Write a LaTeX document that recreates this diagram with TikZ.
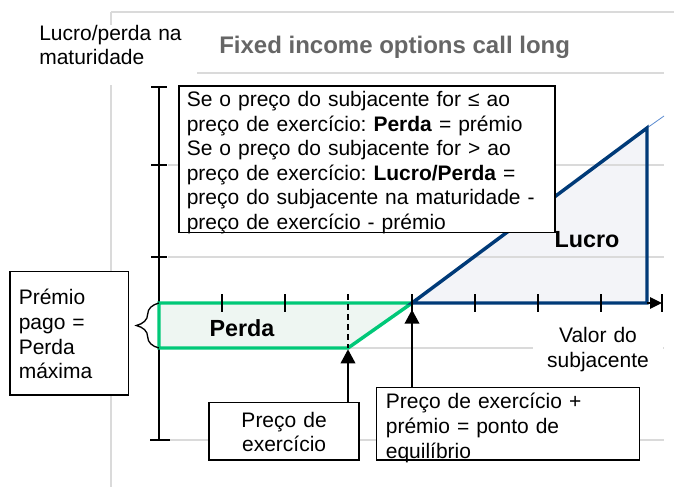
\documentclass[tikz,border=0pt]{standalone}
\usepackage{fontspec}
\setmainfont{Liberation Sans}
\usepackage{tikz}
\usetikzlibrary{positioning}
\usetikzlibrary{arrows.meta}
\usetikzlibrary{decorations.pathreplacing}
\usepackage{xcolor}
\frenchspacing

\definecolor{gridgray}{HTML}{DADADA}
\definecolor{titlegray}{HTML}{666666}
\definecolor{lossgreen}{HTML}{00C878}
\definecolor{lossfill}{HTML}{EEF6F2}
\definecolor{gainblue}{HTML}{003A78}
\definecolor{gainfill}{HTML}{F3F4F8}
\definecolor{lightblue}{HTML}{5B8BD0}

\newcommand{\chartfont}{\fontsize{15.75pt}{18.4pt}\selectfont}
\newcommand{\chartbold}{\fontsize{17.5pt}{20pt}\selectfont\bfseries}
\newcommand{\charttitle}{\fontsize{18pt}{21pt}\selectfont\bfseries}

\begin{document}
\begin{tikzpicture}[x=0.75pt, y=-0.75pt,
    box/.style={draw, fill=white, line width=1.2pt, anchor=north west, inner ysep=0pt, align=left, font=\chartfont},
    axisline/.style={line width=1.2pt},
    gridline/.style={gridgray, line width=1.4pt},
    uparrow/.style={-{Triangle[length=10.5pt,width=11pt]}, line width=1.2pt}]
    \useasboundingbox (0,0) rectangle (674,487);

    % Key points of the payoff
    \coordinate (O) at (159,303);
    \coordinate (ytop) at (159,87);
    \coordinate (ybot) at (159,440);
    \coordinate (xend) at (662,303);
    \coordinate (K) at (348,348);
    \coordinate (Kbase) at (159,348);
    \coordinate (BE) at (412,303);
    \coordinate (P) at (647,128);
    \coordinate (Pbase) at (647,303);
    \coordinate (Pext) at (664,116);

    % Shaded areas
    \fill[lossfill] (O) -- (BE) -- (K) -- (Kbase) -- cycle;
    \fill[gainfill] (BE) -- (P) -- (Pbase) -- cycle;

    % Background grid
    \draw[gridline] (111,12) -- (674,12);
    \draw[gridline] (111,12) -- (111,25);
    \draw[gridline] (111,85) -- (111,487);
    \draw[gridline] (197,73) -- (664,73);
    \foreach \y in {165,257,348,440}
        \draw[gridline] (168,\y) -- (664,\y);

    % Axes
    \draw[axisline] (ytop) -- (ybot);
    \draw[axisline] (O) -- (Pbase);

    % Payoff lines
    \draw[lossgreen, line width=2.6pt] (O) -- (BE) -- (K) -- (Kbase) -- cycle;
    \draw[lightblue, line width=0.6pt] (P) -- (Pext);
    \draw[gainblue, line width=2.6pt] (BE) -- (P) -- (Pbase) -- cycle;
    \draw[axisline, -{Triangle[length=9pt,width=8.5pt]}] (Pbase) -- (xend);

    % Ticks
    \foreach \y in {87,165,257}
        \draw[axisline] (151,\y) -- (167,\y);
    \draw[axisline] (150,440) -- (170,440);
    \foreach \x in {222,285,412,475,538,601,662}
        \draw[axisline] (\x,294) -- (\x,312);
    \draw[axisline, dash pattern=on 4.5pt off 3pt] (348,294) -- (K);

    % Premium brace
    \draw[line width=1pt, decorate, decoration={brace, amplitude=17pt}] (Kbase) -- (O);

    % Labels in the chart
    \node (perdalbl) [font=\chartbold] at (242,328) {Perda};
    \node (lucrolbl) [font=\chartbold] at (587,240) {Lucro};

    % Text boxes
    \node (rulebox) [box, text width=270pt, inner xsep=6pt, text height=15.6pt, text depth=94.4pt] at (178,85)
        {Se o preço do subjacente for ≤ ao\\ preço de exercício: \textbf{Perda} = prémio\\ Se o preço do subjacente for > ao\\ preço de exercício: \textbf{Lucro/Perda} =\\ preço do subjacente na maturidade -\\ preço de exercício - prémio};
    \node (premiobox) [box, text width=75.8pt, inner xsep=6.5pt, text height=25.1pt, text depth=67.4pt] at (9.3,270.7)
        {Prémio\\ pago =\\ Perda\\ máxima};
    \node (strikebox) [box, align=center, text width=112.5pt, inner xsep=0pt, text height=18.6pt, text depth=24.4pt] at (208.3,401.7)
        {Preço de\\ exercício};
    \node (bebox) [box, text width=183.25pt, inner xsep=7pt, text height=16.1pt, text depth=38.1pt] at (375.7,386.7)
        {Preço de exercício +\\ prémio = ponto de\\ equilíbrio};

    % Pointers to the axis
    \draw[uparrow, shorten >=1pt] (strikebox.north -| K) -- (K);
    \draw[uparrow, shorten >=5pt] (bebox.north -| BE) -- (BE);

    % Captions
    \node (ylabel) [anchor=base west, align=left, text width=150pt, inner sep=0pt, font=\chartfont] at (39,40) {Lucro/perda na\\ maturidade};
    \node (title) [anchor=base west, inner sep=0pt, font=\charttitle, text=titlegray] at (219,53) {Fixed income options call long};
    \node (xlabel) [fill=white, align=center, text width=80pt, anchor=base, inner xsep=9pt, inner ysep=3pt, font=\chartfont] at (598,342.5) {Valor do\\ subjacente};
\end{tikzpicture}
\end{document}
